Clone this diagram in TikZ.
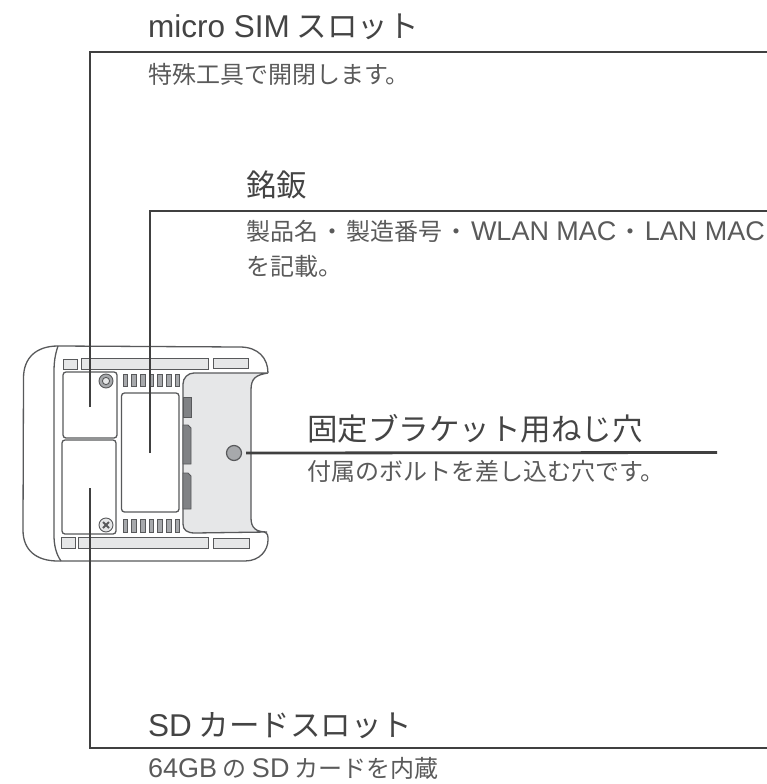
\documentclass[tikz,border=0pt]{standalone}
\usepackage{fontspec}
\setmainfont{Noto Sans CJK JP}
\newfontfamily\latfont{Liberation Sans}
\definecolor{leadgray}{HTML}{404040}
\definecolor{bodygray}{HTML}{58595B}
\definecolor{panelgray}{HTML}{E6E7E8}
\definecolor{tabgray}{HTML}{808285}
\definecolor{holegray}{HTML}{A7A9AC}
\definecolor{headtext}{HTML}{444444}
\definecolor{subtext}{HTML}{5A5A5A}
\newcommand{\hlat}[1]{{\latfont\fontsize{31.5}{34}\selectfont #1}}
\newcommand{\slat}[1]{{\latfont\fontsize{27}{30}\selectfont #1}}
\newcommand{\sdot}{\hspace{2.2pt}・\hspace{2.2pt}}
\tikzset{
	body/.style={draw=bodygray, line width=1.3pt},
	label/.style={draw=bodygray, line width=1pt, fill=panelgray},
	tab/.style={draw=bodygray, line width=.9pt, fill=tabgray},
	bar/.style={draw=bodygray, line width=.9pt, fill=holegray},
	lead/.style={draw=leadgray, line width=2.8pt},
	head/.style={anchor=mid west, inner sep=0pt, text=headtext, font=\fontsize{30.5}{34}\selectfont},
	sub/.style={anchor=mid west, inner sep=0pt, text=subtext, font=\fontsize{24}{28}\selectfont},
}
\begin{document}
\begin{tikzpicture}[x=1pt, y=-1pt]
	\useasboundingbox (0,0) rectangle (767,784);

	% panel behind the outline
	\draw[body, fill=panelgray] (183,384) arc (180:270:11) -- (268,373)
		.. controls (256,375) and (251,378) .. (251,390) -- (251,518)
		.. controls (251,528) and (256,532) .. (267,532) -- (195,533)
		.. controls (187,533) and (183,530) .. (183,524) -- cycle;

	% outline
	\draw[body] (58,346) -- (240,347) .. controls (258,347) and (268,358) .. (268,373);
	\draw[body] (58,346) .. controls (36,346) and (23.5,358) .. (23.5,378) -- (23,530)
		.. controls (23,550) and (36,561) .. (58,561) -- (245,561)
		.. controls (260,561) and (268,550) .. (268,540) .. controls (268,536) and (268,533) .. (264,532);
	\draw[body] (58,346) .. controls (55,355) and (54,362) .. (54,372) -- (54,535)
		.. controls (54,545) and (56,554) .. (61,561);

	% top and bottom label strips
	\draw[label] (63,359) rectangle (77,369);
	\draw[label] (81,358) rectangle (208,369);
	\draw[label] (213,358) rectangle (248,368);
	\draw[label] (61,537) rectangle (75,548);
	\draw[label] (78.5,537) rectangle (208,548);
	\draw[label] (213,538) rectangle (249,548);

	% slots
	\draw[body, rounded corners=3pt] (63,372) rectangle (117,438);
	\draw[body, rounded corners=3pt] (62,440) rectangle (116,534);
	\draw[body, rounded corners=3pt] (121.5,393) rectangle (179,512);

	% screws
	\draw[bar] (106,381) circle (7);
	\draw[body, fill=panelgray, line width=.9pt] (106,381) circle (3.6);
	\draw[bar, fill=panelgray] (106,525) circle (7);
	\draw[bodygray, line width=1.8pt] (103,522) -- (109,528) (109,522) -- (103,528);

	% vents
	\foreach \i in {123,131.7,140.4,149,157.8,166.5,175} {
		\draw[bar] (\i,374) rectangle +(4.6,12.5);
		\draw[bar] (\i,519.5) rectangle +(4.6,12.5);
	}

	% side tabs
	\draw[tab] (183,397) rectangle (191,417);
	\draw[tab] (183,425) -- (188,425) -- (191,428) -- (191,464) -- (183,464) -- cycle;
	\draw[tab] (183,473) -- (188,473) -- (191,476) -- (191,509) -- (183,509) -- cycle;

	% bracket hole
	\node[circle, draw=bodygray, line width=1.2pt, fill=holegray, minimum size=15pt, inner sep=0pt] (hole) at (234,453) {};

	% leaders
	\coordinate (simend) at (90,407);
	\coordinate (simout) at (767,52);
	\coordinate (plateend) at (150,453);
	\coordinate (plateout) at (767,211);
	\coordinate (holeout) at (717,452.5);
	\coordinate (sdend) at (90,488);
	\coordinate (sdout) at (767,748);
	\draw[lead] (simend) -- (simend |- simout) -- (simout);
	\draw[lead] (plateend) -- (plateend |- plateout) -- (plateout);
	\draw[lead] ([xshift=4pt]hole.east) -- (holeout);
	\draw[lead] (sdend) -- (sdend |- sdout) -- (sdout);

	% texts
	\node[head] (simhead) at (148,35) {\hlat{micro SIM} スロット};
	\node[sub] (simsub) at (148,81) {特殊工具で開閉します。};
	\node[head] (platehead) at (246,194) {銘鈑};
	\node[sub] (platesub) at (246,238) {製品名\sdot 製造番号\sdot\slat{WLAN MAC}\sdot\slat{LAN MAC}};
	\node[sub] (platesubb) at (246,273) {を記載。};
	\node[head] (holehead) at (307,438) {固定ブラケット用ねじ穴};
	\node[sub] (holesub) at (307,478) {付属のボルトを差し込む穴です。};
	\node[head] (sdhead) at (148,734) {\hlat{SD} カードスロット};
	\node[sub] (sdsub) at (148,775) {\slat{64GB} の \slat{SD} カードを内蔵};
\end{tikzpicture}
\end{document}
